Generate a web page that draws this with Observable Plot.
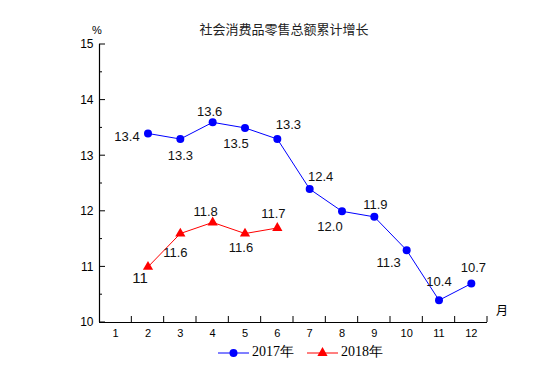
<!DOCTYPE html>
<html><head><meta charset="utf-8">
<script src="https://cdn.jsdelivr.net/npm/d3@7"></script>
<script src="https://cdn.jsdelivr.net/npm/@observablehq/plot@0.6"></script>
<style>body{margin:0;background:#fff;} #chart{width:555px;height:385px;}</style>
</head><body><div id="chart"></div>
<script>
const title = "社会消费品零售总额累计增长";
const yUnit = "%";
const xUnit = "月";
const months = [1, 2, 3, 4, 5, 6, 7, 8, 9, 10, 11, 12];
const monthLabels = ["1", "2", "3", "4", "5", "6", "7", "8", "9", "10", "11", "12"];
const seriesNames = ["2017年", "2018年"];
const values2017 = [null, 13.4, 13.3, 13.6, 13.5, 13.3, 12.4, 12.0, 11.9, 11.3, 10.4, 10.7];
const labels2017 = ["", "13.4", "13.3", "13.6", "13.5", "13.3", "12.4", "12.0", "11.9", "11.3", "10.4", "10.7"];
const values2018 = [null, 11.0, 11.6, 11.8, 11.6, 11.7];
const labels2018 = ["", "11", "11.6", "11.8", "11.6", "11.7"];
const yTicks = [10, 11, 12, 13, 14, 15];
const yTickLabels = ["10", "11", "12", "13", "14", "15"];
const yMinorTicks = [10.5, 11.5, 12.5, 13.5, 14.5];

// label placement (pixel offsets from each point) and size
const place2017 = [null, [-21, 3], [0, 17], [-3, -11], [-9, 16], [11, -14], [11, -12], [-12, 16], [1, -12], [-18, 13], [0, -18], [2, -16]];
const place2018 = [null, [-8, 11], [-5, 19], [-7, -11], [-4, 14], [-4, -14]];
const size2018 = [null, 15, 13, 13, 13, 13];

const rows2017 = months.map((m, i) => ({m, v: values2017[i], label: labels2017[i], off: place2017[i], fs: 13})).filter(d => d.v != null);
const rows2018 = months.slice(0, values2018.length).map((m, i) => ({m, v: values2018[i], label: labels2018[i], off: place2018[i], fs: size2018[i]})).filter(d => d.v != null);
const boundaries = months.map(m => m + 0.5);

const blue = "#0000ff", red = "#ff0000";

const labelMarks = (rows) => rows.map(d => Plot.text([d], {x: "m", y: "v", text: "label", dx: d.off[0], dy: d.off[1], fontSize: d.fs, fill: "#111"}));

const plot = Plot.plot({
  width: 555, height: 385,
  marginLeft: 99, marginRight: 68, marginTop: 44, marginBottom: 63,
  style: {fontFamily: "'Liberation Sans', Arial, sans-serif", background: "#fff"},
  x: {type: "linear", domain: [0.5, 12.5], axis: null},
  y: {domain: [10, 15], axis: null},
  marks: [
    Plot.ruleX([0.5], {stroke: "#000", strokeWidth: 1.2}),
    Plot.ruleY([10], {stroke: "#000", strokeWidth: 1.2}),
    Plot.axisY(yTicks, {anchor: "left", tickSize: 0, tickPadding: 6, fontSize: 12, fill: "#000", label: null, tickFormat: (d, i) => yTickLabels[i]}),
    Plot.axisX(months, {anchor: "bottom", tickSize: 0, tickPadding: 7, fontSize: 11, fill: "#000", label: null, tickFormat: (d, i) => monthLabels[i]}),
    Plot.line(rows2017, {x: "m", y: "v", stroke: blue, strokeWidth: 1}),
    Plot.dot(rows2017, {x: "m", y: "v", fill: blue, r: 4, symbol: "circle"}),
    Plot.line(rows2018, {x: "m", y: "v", stroke: red, strokeWidth: 1}),
    Plot.dot(rows2018, {x: "m", y: "v", fill: red, r: 3.8, symbol: "triangle"}),
    ...labelMarks(rows2017),
    ...labelMarks(rows2018)
  ]
});

const svg = d3.select(plot);
const xs = plot.scale("x"), ys = plot.scale("y");
const x0 = xs.apply(0.5), yBase = ys.apply(10);
const ticksG = svg.append("g").attr("stroke", "#000").attr("stroke-width", 1);
for (const t of yTicks) ticksG.append("line").attr("x1", x0).attr("x2", x0 + 6).attr("y1", ys.apply(t)).attr("y2", ys.apply(t));
for (const t of yMinorTicks) ticksG.append("line").attr("x1", x0).attr("x2", x0 + 3).attr("y1", ys.apply(t)).attr("y2", ys.apply(t));
for (const b of boundaries) ticksG.append("line").attr("x1", xs.apply(b)).attr("x2", xs.apply(b)).attr("y1", yBase).attr("y2", yBase - 6);

svg.append("text").attr("x", 284).attr("y", 30).attr("text-anchor", "middle").attr("dominant-baseline", "middle")
  .attr("font-family", "'Noto Sans CJK SC', sans-serif").attr("font-size", 13).attr("fill", "#222").text(title);
svg.append("text").attr("x", 97).attr("y", 31).attr("text-anchor", "middle").attr("dominant-baseline", "middle")
  .attr("font-size", 11).attr("fill", "#000").text(yUnit);
svg.append("text").attr("x", 502).attr("y", 312).attr("text-anchor", "middle").attr("dominant-baseline", "middle")
  .attr("font-family", "'Noto Sans CJK SC', sans-serif").attr("font-size", 12).attr("fill", "#000").text(xUnit);

// legend
const legendY = 353;
const legendItems = [{name: seriesNames[0], color: blue, sym: d3.symbolCircle, size: 50, x0: 218}, {name: seriesNames[1], color: red, sym: d3.symbolTriangle, size: 45, x0: 307}];
for (const it of legendItems) {
  const g = svg.append("g");
  g.append("line").attr("x1", it.x0).attr("x2", it.x0 + 31).attr("y1", legendY).attr("y2", legendY).attr("stroke", it.color).attr("stroke-width", 1);
  g.append("path").attr("d", d3.symbol(it.sym, it.size)()).attr("transform", `translate(${it.x0 + 15.5},${legendY})`).attr("fill", it.color);
  g.append("text").attr("x", it.x0 + 34).attr("y", legendY).attr("text-anchor", "start").attr("dominant-baseline", "middle")
    .attr("font-family", "'Liberation Serif', 'Times New Roman', serif").attr("font-size", 14).attr("fill", "#000").text(it.name);
}

document.getElementById("chart").appendChild(plot);
</script>
</body></html>
